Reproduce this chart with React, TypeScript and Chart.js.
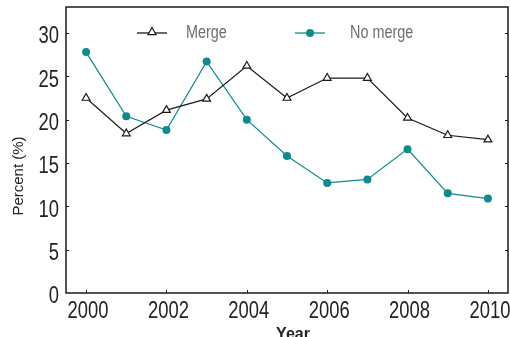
import { useEffect, useRef } from 'react';
import { Chart, registerables } from 'chart.js';

Chart.register(...registerables);

// Share of cases (%) per year, for the two groups
const years = [2000, 2001, 2002, 2003, 2004, 2005, 2006, 2007, 2008, 2009, 2010];
const mergeValues = [22.5, 18.4, 21.1, 22.4, 26.2, 22.5, 24.8, 24.8, 20.2, 18.2, 17.7];
const noMergeValues = [27.8, 20.4, 18.8, 26.7, 20.0, 15.8, 12.7, 13.1, 16.6, 11.5, 10.9];

const xTickValues = [2000, 2002, 2004, 2006, 2008, 2010];
const yTickValues = [0, 5, 10, 15, 20, 25, 30];

const seriesNames = ['Merge', 'No merge'];
const xTitle = 'Year';
const yTitle = 'Percent (%)';

const TEAL = '#0f8b8b';
const INK = '#1a1a1a';
const SANS = "'Liberation Sans', Arial, sans-serif";
const CONDENSE = 0.8; // horizontal squeeze for the narrow label face

function drawTriangle(ctx: CanvasRenderingContext2D, x: number, y: number, r: number) {
  ctx.beginPath();
  ctx.moveTo(x, y - r);
  ctx.lineTo(x + r * 0.9, y + r * 0.6);
  ctx.lineTo(x - r * 0.9, y + r * 0.6);
  ctx.closePath();
  ctx.fillStyle = '#ffffff';
  ctx.fill();
  ctx.strokeStyle = INK;
  ctx.lineWidth = 1.2;
  ctx.stroke();
}

function drawDot(ctx: CanvasRenderingContext2D, x: number, y: number, r: number) {
  ctx.beginPath();
  ctx.arc(x, y, r, 0, Math.PI * 2);
  ctx.fillStyle = TEAL;
  ctx.fill();
}

// condensed text: squeeze horizontally around the anchor point
function narrowText(
  ctx: CanvasRenderingContext2D,
  text: string,
  x: number,
  y: number,
  align: CanvasTextAlign,
  baseline: CanvasTextBaseline,
) {
  ctx.save();
  ctx.translate(x, y);
  ctx.scale(CONDENSE, 1);
  ctx.textAlign = align;
  ctx.textBaseline = baseline;
  ctx.fillText(text, 0, 0);
  ctx.restore();
}

// Box frame, inward tick marks, tick labels, axis titles and the in-plot legend
const framePlugin = {
  id: 'frame',
  afterDraw(chart: any) {
    const { ctx, chartArea: a, scales } = chart;
    ctx.save();
    ctx.strokeStyle = INK;
    ctx.lineWidth = 1.5;
    ctx.strokeRect(a.left, a.top, a.right - a.left, a.bottom - a.top);

    ctx.lineWidth = 1;
    ctx.beginPath();
    for (const v of yTickValues) {
      if (v === 0) continue;
      const y = Math.round(scales.y.getPixelForValue(v)) + 0.5;
      ctx.moveTo(a.left, y);
      ctx.lineTo(a.left + 3, y);
      ctx.moveTo(a.right - 3, y);
      ctx.lineTo(a.right, y);
    }
    for (const v of xTickValues) {
      const x = Math.round(scales.x.getPixelForValue(v)) + 0.5;
      ctx.moveTo(x, a.bottom);
      ctx.lineTo(x, a.bottom - 3);
    }
    ctx.stroke();

    // tick labels
    ctx.fillStyle = '#222';
    ctx.font = `23px ${SANS}`;
    for (const v of yTickValues) {
      narrowText(ctx, String(v), a.left - 7, scales.y.getPixelForValue(v) + 4, 'right', 'middle');
    }
    for (const v of xTickValues) {
      narrowText(ctx, String(v), scales.x.getPixelForValue(v) + 2, a.bottom + 7, 'center', 'top');
    }

    // y title
    ctx.save();
    ctx.translate(19, 176);
    ctx.rotate(-Math.PI / 2);
    ctx.fillStyle = '#222';
    ctx.font = `15px ${SANS}`;
    ctx.textAlign = 'center';
    ctx.textBaseline = 'middle';
    ctx.fillText(yTitle, 0, 0);
    ctx.restore();

    // x title (sits low, partly below the visible page)
    ctx.fillStyle = '#222';
    ctx.font = `bold 16px ${SANS}`;
    ctx.textAlign = 'center';
    ctx.textBaseline = 'top';
    ctx.fillText(xTitle, a.left + 227, 327);

    // legend
    const ly = a.top + 26;
    const entries = [
      { x0: a.left + 71, textX: a.left + 120, color: INK, marker: 'tri' },
      { x0: a.left + 229, textX: a.left + 284, color: TEAL, marker: 'dot' },
    ];
    entries.forEach((e, i) => {
      ctx.beginPath();
      ctx.strokeStyle = e.color;
      ctx.lineWidth = 1.3;
      ctx.moveTo(e.x0, ly);
      ctx.lineTo(e.x0 + 30, ly);
      ctx.stroke();
      if (e.marker === 'tri') drawTriangle(ctx, e.x0 + 15, ly - 1, 4.5);
      else drawDot(ctx, e.x0 + 15, ly, 4);
      ctx.fillStyle = '#6e6e6e';
      ctx.font = `18px ${SANS}`;
      narrowText(ctx, seriesNames[i], e.textX, ly, 'left', 'middle');
    });
    ctx.restore();
  },
};

export default function App() {
  const canvasRef = useRef<HTMLCanvasElement | null>(null);

  useEffect(() => {
    const canvas = canvasRef.current;
    if (!canvas) return;
    const chart = new Chart(canvas, {
      type: 'line',
      data: {
        datasets: [
          {
            label: seriesNames[0],
            data: years.map((x, i) => ({ x, y: mergeValues[i] })),
            borderColor: INK,
            borderWidth: 1.2,
            pointStyle: 'triangle',
            pointRadius: 4.5,
            pointBackgroundColor: '#ffffff',
            pointBorderColor: INK,
            pointBorderWidth: 1.2,
            tension: 0,
          },
          {
            label: seriesNames[1],
            data: years.map((x, i) => ({ x, y: noMergeValues[i] })),
            borderColor: TEAL,
            borderWidth: 1.2,
            pointStyle: 'circle',
            pointRadius: 4,
            pointBackgroundColor: TEAL,
            pointBorderColor: TEAL,
            pointBorderWidth: 0,
            tension: 0,
          },
        ],
      },
      options: {
        animation: false,
        responsive: false,
        maintainAspectRatio: false,
        layout: { padding: { top: 7, right: 6, left: 0, bottom: 0 } },
        plugins: { legend: { display: false }, tooltip: { enabled: false } },
        scales: {
          x: {
            type: 'linear',
            min: 1999.5,
            max: 2010.5,
            afterBuildTicks: (s: any) => {
              s.ticks = xTickValues.map((value) => ({ value }));
            },
            afterFit: (s: any) => {
              s.height = 52;
              s.paddingLeft = 0;
              s.paddingRight = 0;
            },
            grid: { display: false, drawTicks: false },
            border: { display: false },
            ticks: { display: false },
          },
          y: {
            type: 'linear',
            min: 0,
            max: 33,
            afterBuildTicks: (s: any) => {
              s.ticks = yTickValues.map((value) => ({ value }));
            },
            afterFit: (s: any) => {
              s.width = 66;
              s.paddingTop = 0;
              s.paddingBottom = 0;
            },
            grid: { display: false, drawTicks: false },
            border: { display: false },
            ticks: { display: false },
          },
        },
      },
      plugins: [framePlugin],
    });
    return () => chart.destroy();
  }, []);

  return (
    <div style={{ position: 'fixed', left: 0, top: 0, width: 510, height: 337, overflow: 'hidden', background: '#fff' }}>
      <canvas ref={canvasRef} width={514} height={345} style={{ display: 'block', width: 514, height: 345 }} />
    </div>
  );
}
